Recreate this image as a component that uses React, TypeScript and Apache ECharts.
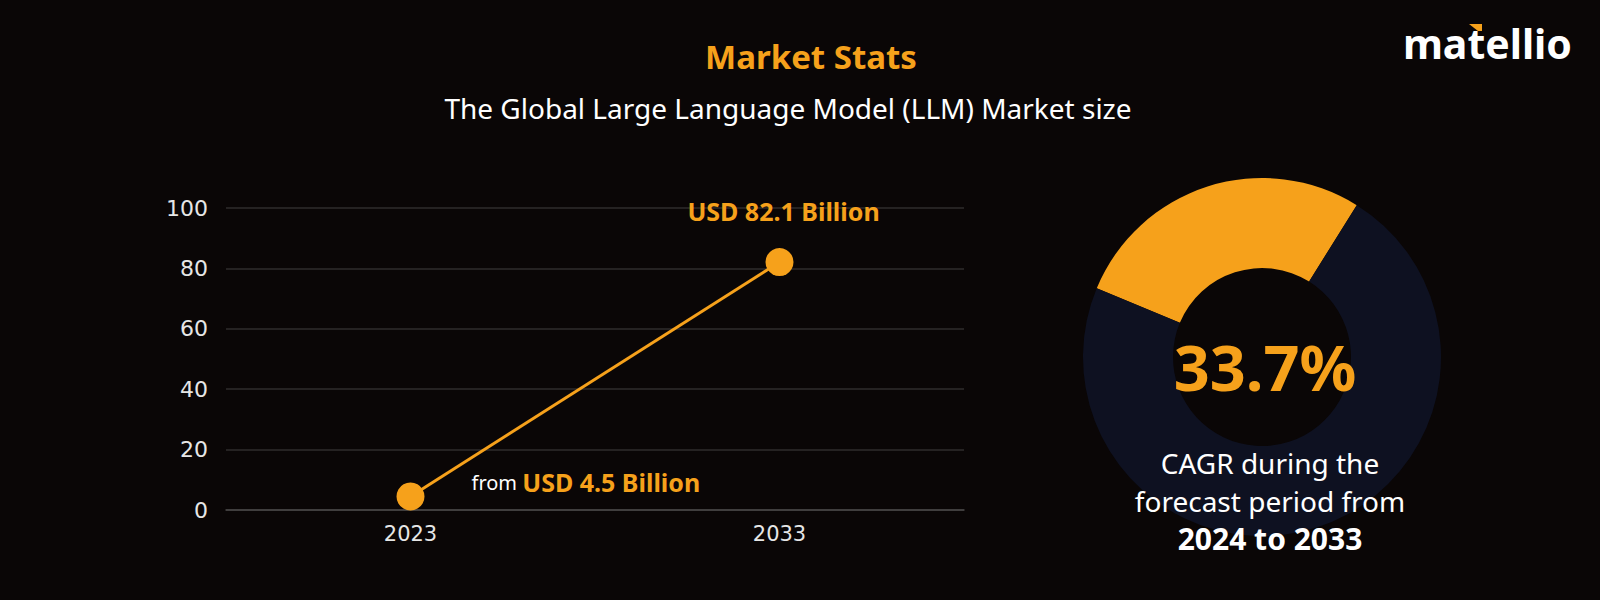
import React, { useEffect, useRef } from "react";
import * as echarts from "echarts";

const years = ["2023", "2033"];
const marketSize = [4.5, 82.1];
const yTicks = { min: 0, max: 100, interval: 20 };
const cagrRingShares = [27.6, 72.4];
const cagrText = "33.7%";
const titleText = "Market Stats";
const subtitleText = "The Global Large Language Model (LLM) Market size";

const ORANGE = "#F6A11B";
const BG = "#0a0606";
const FONT = "'Noto Sans', sans-serif";

export default function App() {
  const ref = useRef<HTMLDivElement>(null);
  useEffect(() => {
    document.body.style.margin = "0";
    document.body.style.background = BG;
    const chart = echarts.init(ref.current!, undefined, { renderer: "svg" });
    const option: any = {
      animation: false,
      backgroundColor: BG,
      grid: { left: 226, right: 636, top: 208, bottom: 90 },
      xAxis: {
        type: "category",
        data: years,
        boundaryGap: true,
        axisLine: { show: true, lineStyle: { color: "#4a4848", width: 1.5 } },
        axisTick: { show: false },
        axisLabel: { color: "#e6e6e6", fontSize: 21, fontFamily: "'DejaVu Sans', sans-serif", margin: 13 },
        splitLine: { show: false },
      },
      yAxis: {
        type: "value",
        min: yTicks.min,
        max: yTicks.max,
        interval: yTicks.interval,
        axisLine: { show: false },
        axisTick: { show: false },
        axisLabel: { color: "#e6e6e6", fontSize: 22, fontFamily: "'DejaVu Sans', sans-serif", margin: 18 },
        splitLine: { show: true, lineStyle: { color: "#2f2d2d", width: 1.5 } },
      },
      series: [
        {
          type: "line",
          data: [
            {
              value: marketSize[0],
              label: {
                show: true,
                position: "right",
                distance: 47,
                offset: [0, -14],
                formatter: "{a|from }{b|USD " + marketSize[0] + " Billion}",
                rich: {
                  a: { color: "#ffffff", fontSize: 20, fontFamily: FONT },
                  b: { color: ORANGE, fontSize: 25, fontWeight: "bold", fontFamily: FONT },
                },
              },
            },
            {
              value: marketSize[1],
              label: {
                show: true,
                position: "top",
                distance: 25,
                offset: [4, 0],
                formatter: "USD " + marketSize[1] + " Billion",
                color: ORANGE,
                fontSize: 25,
                fontWeight: "bold",
                fontFamily: FONT,
              },
            },
          ],
          symbol: "circle",
          symbolSize: 28,
          itemStyle: { color: ORANGE },
          lineStyle: { color: ORANGE, width: 3 },
          z: 3,
        },
        {
          type: "pie",
          center: [1262, 357],
          radius: [89, 179],
          startAngle: 157.4,
          clockwise: true,
          silent: true,
          label: { show: false },
          labelLine: { show: false },
          data: [
            { value: cagrRingShares[0], itemStyle: { color: ORANGE } },
            { value: cagrRingShares[1], itemStyle: { color: "#0e1121" } },
          ],
        },
      ],
      graphic: [
        {
          type: "text",
          x: 811,
          y: 56,
          style: { text: titleText, fill: ORANGE, font: "bold 33px " + FONT, textAlign: "center", textVerticalAlign: "middle" },
        },
        {
          type: "text",
          x: 788,
          y: 108,
          style: { text: subtitleText, fill: "#ffffff", font: "28px " + FONT, textAlign: "center", textVerticalAlign: "middle" },
        },
        {
          type: "text",
          x: 1265,
          y: 366,
          z: 10,
          style: { text: cagrText, fill: ORANGE, font: "bold 63px " + FONT, textAlign: "center", textVerticalAlign: "middle" },
        },
        {
          type: "text",
          x: 1270,
          y: 463,
          z: 10,
          style: { text: "CAGR during the", fill: "#ffffff", font: "28px " + FONT, textAlign: "center", textVerticalAlign: "middle" },
        },
        {
          type: "text",
          x: 1270,
          y: 501,
          z: 10,
          style: { text: "forecast period from", fill: "#ffffff", font: "28px " + FONT, textAlign: "center", textVerticalAlign: "middle" },
        },
        {
          type: "text",
          x: 1270,
          y: 538,
          z: 10,
          style: { text: "2024 to 2033", fill: "#ffffff", font: "bold 30px " + FONT, textAlign: "center", textVerticalAlign: "middle" },
        },
        {
          type: "text",
          x: 1572,
          y: 43,
          style: { text: "matellio", fill: "#ffffff", font: "bold 41px " + FONT, textAlign: "right", textVerticalAlign: "middle" },
        },
        {
          type: "polygon",
          shape: { points: [[1469, 24], [1482, 24], [1482, 31], [1478, 31]] },
          style: { fill: ORANGE },
        },
      ],
    };
    chart.setOption(option);
    return () => chart.dispose();
  }, []);
  return <div ref={ref} style={{ width: 1600, height: 600 }} />;
}
